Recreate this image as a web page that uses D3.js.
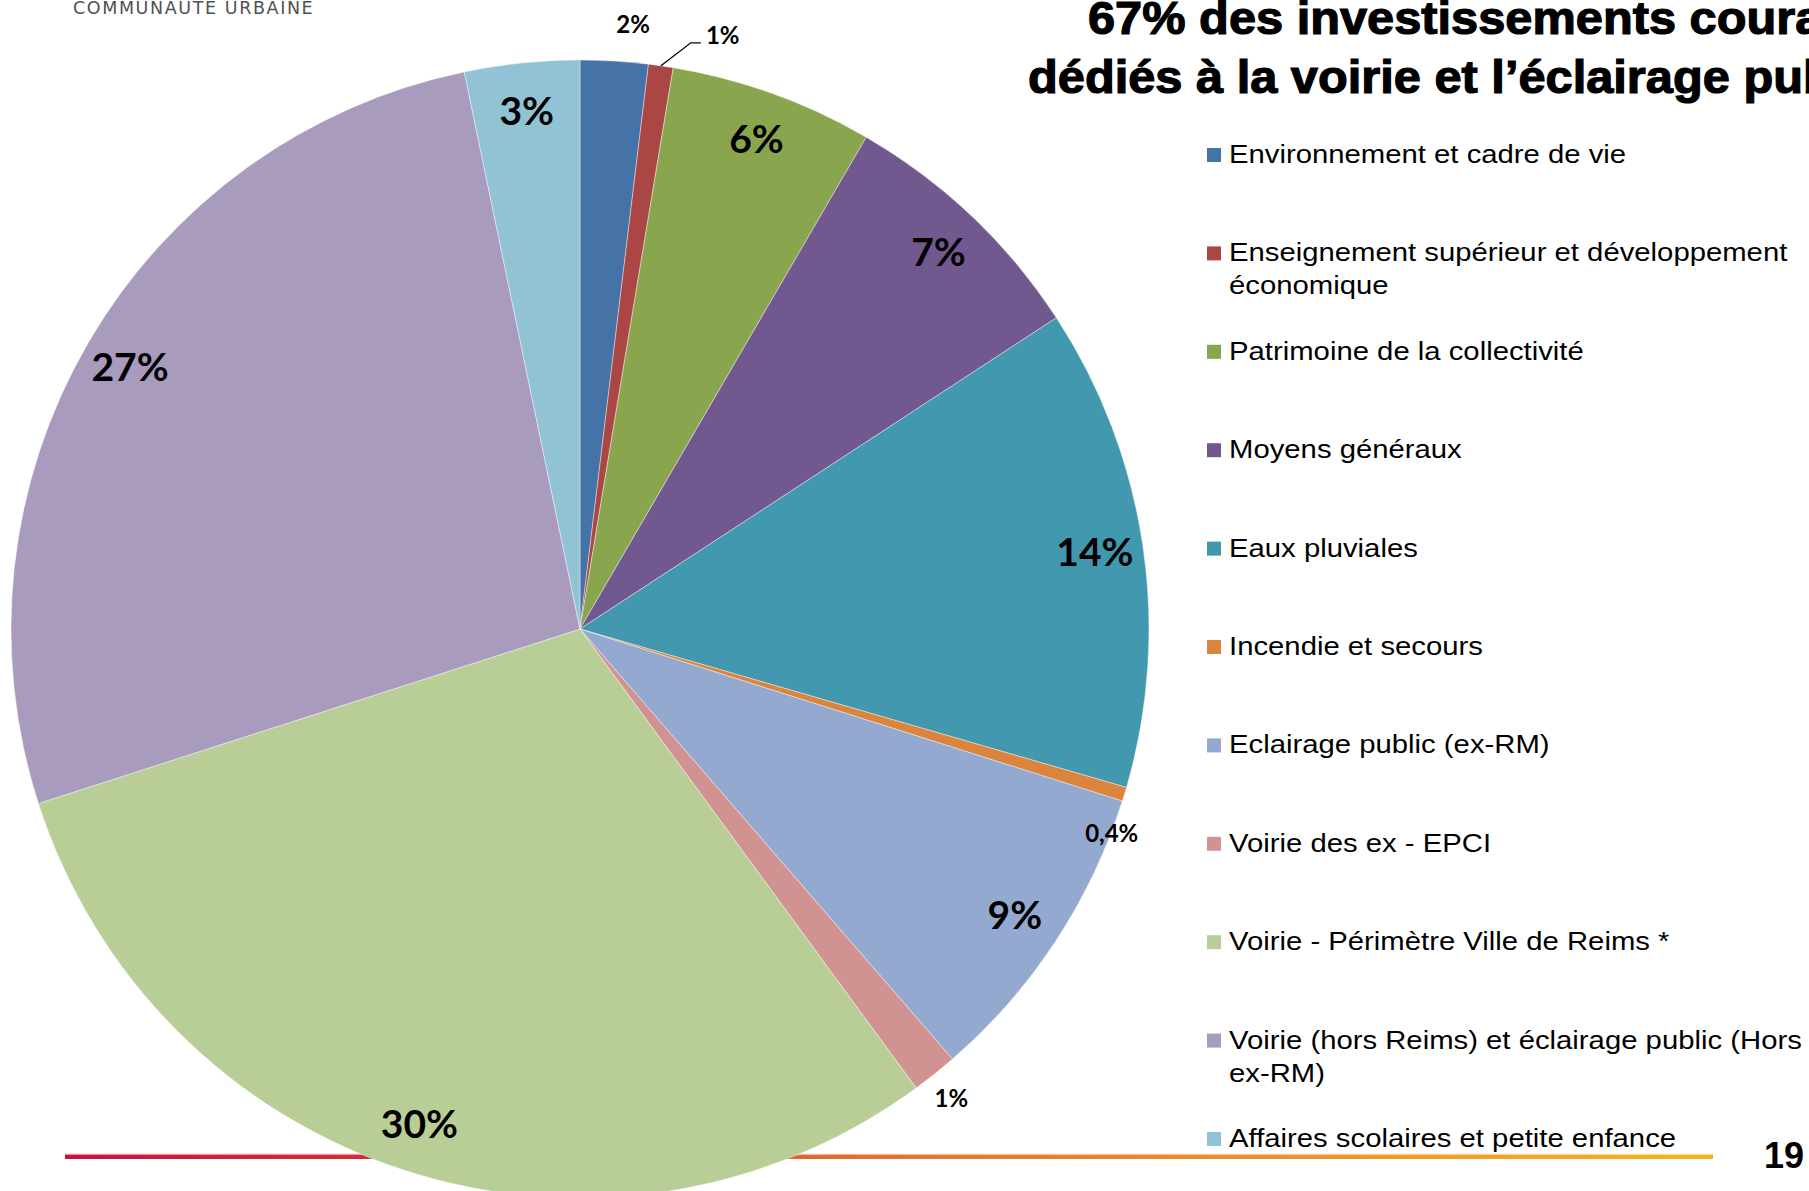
<!DOCTYPE html>
<html>
<head>
<meta charset="utf-8">
<script src="https://d3js.org/d3.v7.min.js"></script>
<style>
  html, body { margin: 0; padding: 0; background: #fff; }
  svg { display: block; }
</style>
</head>
<body>
<div id="chart"></div>
<script>
// data
var categories = [
  "Environnement et cadre de vie",
  "Enseignement supérieur et développement économique",
  "Patrimoine de la collectivité",
  "Moyens généraux",
  "Eaux pluviales",
  "Incendie et secours",
  "Eclairage public (ex-RM)",
  "Voirie des ex - EPCI",
  "Voirie - Périmètre Ville de Reims *",
  "Voirie (hors Reims) et éclairage public (Hors ex-RM)",
  "Affaires scolaires et petite enfance"
];
var values = [1.92, 0.7, 5.77, 7.4, 13.7, 0.4, 8.75, 1.3, 30.1, 26.7, 3.26];
var valueLabels = ["2%", "1%", "6%", "7%", "14%", "0,4%", "9%", "1%", "30%", "27%", "3%"];
var colors = ["#4572A7", "#AA4643", "#89A54E", "#71588F", "#4198AF", "#DB843D",
              "#93A9CF", "#D19392", "#B9CD96", "#A99BBD", "#92C3D4"];
var titleLines = ["67% des investissements courants", "dédiés à la voirie et l\u2019éclairage public"];

var width = 1809, height = 1191;
var cx = 580, cy = 629, radius = 569;

// which labels sit outside the pie, with small nudges (px)
var outsideLabels = { 0: [17, -8], 5: [-40, 31], 7: [-1, 2] };
var leaderLabel = 1;

var svg = d3.select("#chart").append("svg")
    .attr("width", width)
    .attr("height", height);

// header text
svg.append("text")
    .attr("x", 73)
    .attr("y", 14)
    .style("font-family", "'DejaVu Sans', sans-serif")
    .style("font-size", "17.5px")
    .style("letter-spacing", "1.6px")
    .style("fill", "#4f5052")
    .text("COMMUNAUTE URBAINE");

// bottom gradient rule
var defs = svg.append("defs");
var grad = defs.append("linearGradient").attr("id", "rule")
    .attr("x1", "0%").attr("x2", "100%");
grad.append("stop").attr("offset", "0%").attr("stop-color", "#c8123e");
grad.append("stop").attr("offset", "25%").attr("stop-color", "#d23a38");
grad.append("stop").attr("offset", "50%").attr("stop-color", "#df7432");
grad.append("stop").attr("offset", "100%").attr("stop-color", "#f4b422");

svg.append("rect")
    .attr("x", 65).attr("y", 1155)
    .attr("width", 1648).attr("height", 4)
    .attr("fill", "url(#rule)");
svg.append("rect")
    .attr("x", 65).attr("y", 1153.7)
    .attr("width", 1648).attr("height", 1.5)
    .attr("fill", "url(#rule)")
    .attr("opacity", 0.45);

// pie
var pie = d3.pie().sort(null).value(function(d) { return d; });
var arcs = pie(values);
var arc = d3.arc().innerRadius(0).outerRadius(radius);
var labelArc = d3.arc().innerRadius(radius * 0.915).outerRadius(radius * 0.915);
var edgeArc = d3.arc().innerRadius(radius).outerRadius(radius);
var outArc = d3.arc().innerRadius(radius * 1.05).outerRadius(radius * 1.05);

var g = svg.append("g").attr("transform", "translate(" + cx + "," + cy + ")");

g.selectAll("path.slice")
    .data(arcs)
  .enter().append("path")
    .attr("class", "slice")
    .attr("d", arc)
    .attr("fill", function(d, i) { return colors[i]; })
    .attr("stroke", "#ffffff")
    .attr("stroke-opacity", 0.5)
    .attr("stroke-width", 0.8);

// inside labels
g.selectAll("text.inlabel")
    .data(arcs.filter(function(d) { return !(d.index in outsideLabels) && d.index !== leaderLabel; }))
  .enter().append("text")
    .attr("class", "inlabel")
    .attr("transform", function(d) { return "translate(" + labelArc.centroid(d) + ")"; })
    .attr("dy", "0.36em")
    .attr("text-anchor", "middle")
    .style("font-family", "Lato, 'Open Sans', sans-serif")
    .style("font-weight", "bold")
    .style("font-size", "39px")
    .style("fill", "#000")
    .text(function(d) { return valueLabels[d.index]; });

// outside labels
g.selectAll("text.outlabel")
    .data(arcs.filter(function(d) { return d.index in outsideLabels; }))
  .enter().append("text")
    .attr("class", "outlabel")
    .attr("transform", function(d) {
      var p = outArc.centroid(d), n = outsideLabels[d.index];
      return "translate(" + (p[0] + n[0]) + "," + (p[1] + n[1]) + ")";
    })
    .attr("dy", "0.36em")
    .attr("text-anchor", "middle")
    .style("font-family", "Lato, 'Open Sans', sans-serif")
    .style("font-weight", "bold")
    .style("font-size", "24px")
    .style("fill", "#000")
    .text(function(d) { return valueLabels[d.index]; });

// leader line label (small red slice)
var ld = arcs[leaderLabel];
var p0 = edgeArc.centroid(ld);
var p1 = [p0[0] + 30, p0[1] - 23];
var p2 = [p1[0] + 10, p1[1]];
g.append("path")
    .attr("d", d3.line()([p0, p1, p2]))
    .attr("fill", "none")
    .attr("stroke", "#000")
    .attr("stroke-width", 1.3);
g.append("text")
    .attr("x", p2[0] + 5)
    .attr("y", p2[1] + 1)
    .style("font-family", "Lato, 'Open Sans', sans-serif")
    .style("font-weight", "bold")
    .style("font-size", "24px")
    .text(valueLabels[leaderLabel]);

// title
var titleX = [1088, 1028], titleY = [34, 93];
titleLines.forEach(function(t, i) {
  svg.append("text")
      .attr("transform", "translate(" + titleX[i] + "," + titleY[i] + ") scale(1.06,1)")
      .style("font-family", "'Liberation Sans', Arial, sans-serif")
      .style("font-weight", "bold")
      .style("font-size", "46px")
      .style("fill", "#000")
      .style("stroke", "#000")
      .style("stroke-width", 1.2)
      .text(t);
});

// legend
var legendX = 1207, legendY0 = 163, legendStep = 98.4, lineStep = 33, stretch = 1.144, wrapWidth = 590;
var legend = svg.append("g").attr("class", "legend");
categories.forEach(function(name, i) {
  var y = legendY0 + i * legendStep;
  legend.append("rect")
      .attr("x", legendX).attr("y", y - 15)
      .attr("width", 14).attr("height", 14)
      .attr("fill", colors[i]);
  var txt = legend.append("text")
      .attr("transform", "translate(" + (legendX + 22) + "," + y + ") scale(" + stretch + ",1)")
      .style("font-family", "'Liberation Sans', Arial, sans-serif")
      .style("font-size", "25.6px")
      .style("fill", "#000");
  // wrap words
  var words = name.split(" "), line = [], lineNo = 0;
  var tspan = txt.append("tspan").attr("x", 0).attr("y", 0);
  words.forEach(function(w) {
    line.push(w);
    tspan.text(line.join(" "));
    if (tspan.node().getComputedTextLength() * stretch > wrapWidth && line.length > 1) {
      line.pop();
      tspan.text(line.join(" "));
      line = [w];
      lineNo++;
      tspan = txt.append("tspan").attr("x", 0).attr("y", lineNo * lineStep).text(w);
    }
  });
});

// page number
svg.append("text")
    .attr("x", 1764)
    .attr("y", 1168)
    .style("font-family", "'Liberation Sans', Arial, sans-serif")
    .style("font-weight", "bold")
    .style("font-size", "36px")
    .text("19");
</script>
</body>
</html>
